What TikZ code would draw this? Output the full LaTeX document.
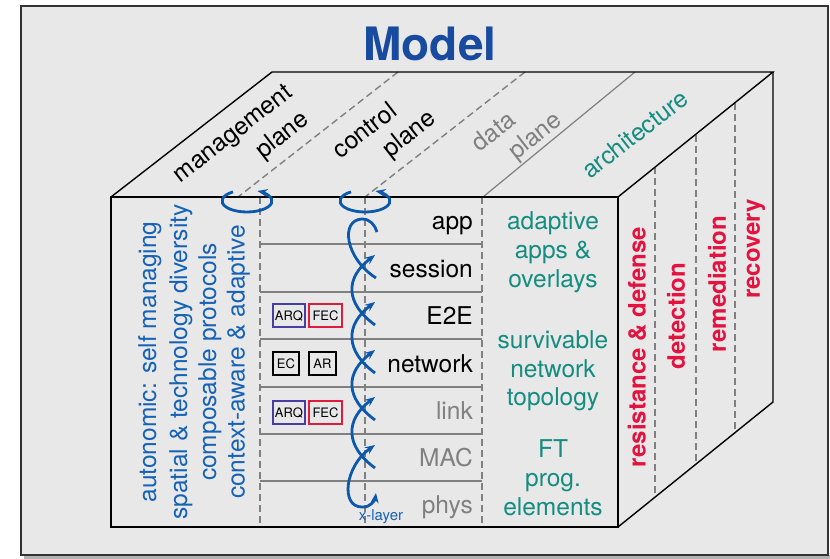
\documentclass[tikz,border=0pt]{standalone}
\usepackage{fontspec}
\setmainfont{TeX Gyre Heros}
\usetikzlibrary{arrows.meta}
\definecolor{bgc}{RGB}{232,232,232}
\definecolor{mblue}{RGB}{24,74,160}
\definecolor{cblue}{RGB}{12,88,170}
\definecolor{lblue}{RGB}{22,98,182}
\definecolor{tealc}{RGB}{20,140,128}
\definecolor{redc}{RGB}{228,18,62}
\definecolor{dgray}{RGB}{128,128,128}
\definecolor{arqc}{RGB}{72,60,165}
\definecolor{fecc}{RGB}{220,30,60}
\tikzset{
  edge/.style={line width=1.4pt, black},
  dsh/.style={line width=1.4pt, dgray, dash pattern=on 7pt off 4pt},
  hline/.style={line width=1.4pt, dgray},
  coilbase/.style={line width=2.8pt, cblue},
  coil/.style={coilbase, -{Stealth[length=10pt,width=8pt]}},
  coiltwo/.style={coilbase, {Stealth[length=10pt,width=8pt]}-{Stealth[length=10pt,width=8pt]}},
  big/.style={font=\fontsize{24.5}{29}\selectfont, inner sep=0pt},
  lay/.style={big, anchor=base east},
  topl/.style={big, rotate=37.8, anchor=center},
  redl/.style={big, font=\fontsize{24}{29}\selectfont\bfseries, text=redc, rotate=90, anchor=center},
  bluel/.style={big, text=lblue, rotate=90, anchor=base},
  teall/.style={big, text=tealc, anchor=base},
  tinybox/.style={draw, line width=1.5pt, font=\fontsize{13}{15}\selectfont, minimum height=23pt, inner sep=0pt, text=black}
}
\begin{document}
\begin{tikzpicture}[x=1pt,y=-1pt]
\useasboundingbox (0,0) rectangle (830,559);
\fill[white] (0,0) rectangle (830,559);
\fill[gray!60] (24,555) rectangle (830,559);
\filldraw[fill=bgc, draw=black!80, line width=2pt] (21,6) rectangle (828,555);

% title
\node[font=\fontsize{46}{50}\selectfont\bfseries, text=mblue, inner sep=0pt] (title) at (430,44) {Model};

% box corners
\coordinate (ftl) at (111,197);
\coordinate (ftr) at (618,197);
\coordinate (fbl) at (111,527);
\coordinate (fbr) at (618,527);
\coordinate (btl) at (272,72);
\coordinate (btr) at (773,72);
\coordinate (bbr) at (773,402);

% front face interior lines
\foreach \y in {244,292,339,387,434,481} \draw[hline] (260,\y) -- (482,\y);
\foreach \x in {260,365,482} \draw[dsh] (\x,197) -- (\x,527);

% top face dividers
\draw[dsh] (398,72) -- (238,197);
\draw[dsh] (525,72) -- (365,197);
\draw[line width=1.2pt, dgray] (635,72) -- (483,197);

% right face dividers
\draw[dsh] (655,167) -- (655,497);
\draw[dsh] (696,135) -- (696,464);
\draw[dsh] (735,103) -- (735,433);

% box outline
\draw[edge, line join=miter] (ftl) -- (ftr) -- (fbr) -- (fbl) -- cycle;
\draw[edge] (ftl) -- (btl) -- (btr) -- (ftr);
\draw[edge] (btr) -- (bbr) -- (fbr);

% top labels
\node[topl] (mgmt) at (234,135) {management};
\node[topl] (mplane) at (283,136) {plane};
\node[topl] (ctrl) at (364,130) {control};
\node[topl] (cplane) at (410,135) {plane};
\node[topl, text=dgray] (data) at (493,131) {data};
\node[topl, text=dgray] (dplane) at (536,137) {plane};
\node[topl, text=tealc] (arch) at (635,134) {architecture};

% layer labels
\node[lay] (app) at (473,229) {app};
\node[lay] (sess) at (473,277) {session};
\node[lay] (e2e) at (473,324) {E2E};
\node[lay] (net) at (473,372) {network};
\node[lay, text=dgray] (link) at (473,419) {link};
\node[lay, text=dgray] (mac) at (473,466) {MAC};
\node[lay, text=dgray] (phys) at (473,513) {phys};

% small boxes
\node[tinybox, draw=arqc, minimum width=32pt] (arq1) at (289,315.5) {ARQ};
\node[tinybox, draw=fecc, minimum width=33pt] (fec1) at (325.5,315.5) {FEC};
\node[tinybox, draw=black, minimum width=26pt] (ec) at (286,363.5) {EC};
\node[tinybox, draw=black, minimum width=27pt] (ar) at (322.5,363.5) {AR};
\node[tinybox, draw=arqc, minimum width=32pt] (arq2) at (289,412.5) {ARQ};
\node[tinybox, draw=fecc, minimum width=33pt] (fec2) at (325.5,412.5) {FEC};

% left blue text
\node[bluel] (l1) at (156,362) {autonomic: self managing};
\node[bluel] (l2) at (187,362) {spatial \& technology diversity};
\node[bluel] (l3) at (216,362) {composable protocols};
\node[bluel] (l4) at (244.5,362) {context-aware \& adaptive};

% teal architecture text
\node[teall] (t1) at (553,229) {adaptive};
\node[teall] (t2) at (553,258) {apps \&};
\node[teall] (t3) at (553,287) {overlays};
\node[teall] (t4) at (553,348) {survivable};
\node[teall] (t5) at (553,377) {network};
\node[teall] (t6) at (553,405) {topology};
\node[teall] (t7) at (553,457) {FT};
\node[teall] (t8) at (553,486) {prog.};
\node[teall] (t9) at (553,515) {elements};

% red right face text
\node[redl] (r1) at (637,347) {resistance \& defense};
\node[redl] (r2) at (676,316) {detection};
\node[redl] (r3) at (717,284) {remediation};
\node[redl] (r4) at (756,249) {recovery};

% top loops
\draw[coil] (247,201) ++(236:25 and 11) arc[start angle=236, end angle=-65, x radius=25, y radius=11];
\draw[coil] (365,201) ++(236:25 and 11) arc[start angle=236, end angle=-65, x radius=25, y radius=11];

% x-layer coil
\draw[coilbase] (376,278) .. controls (345,258) and (340,220) .. (362,219) .. controls (370,219) and (375,225) .. (377,232);
\draw[coil] (375,325) .. controls (345,303) and (345,278) .. (375,255);
\draw[coil] (375,373) .. controls (345,351) and (345,325) .. (375,302);
\draw[coil] (375,420) .. controls (345,398) and (345,373) .. (375,350);
\draw[coil] (375,468) .. controls (345,446) and (345,420) .. (375,397);
\draw[coiltwo] (375,445) .. controls (345,466) and (340,507) .. (362,507) .. controls (370,508) and (375,500) .. (376,493);
\node[font=\fontsize{15}{17}\selectfont, text=lblue, inner sep=0pt] (xl) at (381,517) {x-layer};
\end{tikzpicture}
\end{document}
